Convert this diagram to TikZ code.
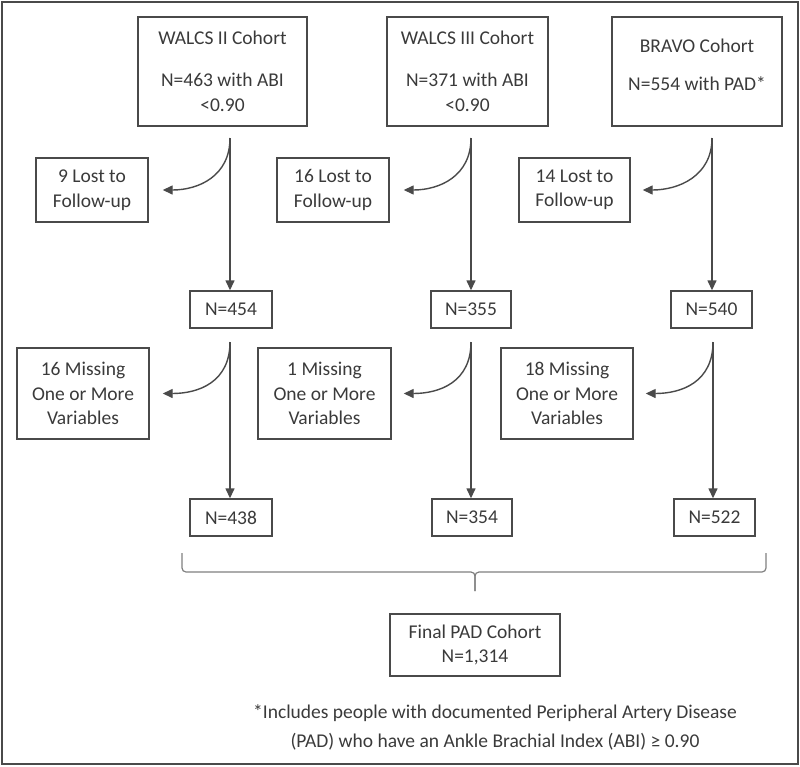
\documentclass[tikz,border=0pt]{standalone}
\usepackage{fontspec}
\setmainfont{Carlito}
\usetikzlibrary{arrows.meta}

\definecolor{inkgray}{HTML}{3A3A3A}
\definecolor{linegray}{HTML}{4A4A4A}
\tikzset{
	box/.style={draw=linegray, line width=1.4pt, text=inkgray, align=center, inner sep=0pt,
		font=\fontsize{19.5}{24.5}\selectfont},
	flow/.style={draw=linegray, line width=1.4pt, -{Triangle[length=10pt,width=9pt]}},
}

\begin{document}
\begin{tikzpicture}[x=1pt, y=-1pt]
		\useasboundingbox (0,0) rectangle (800,766);
		\draw[line width=2pt, color=linegray] (2,2) rectangle (798,764);

		% cohorts
		\node[box, minimum width=169pt, minimum height=109pt] (walcs2) at (222.5,71.5) {WALCS II Cohort\\[17.5pt]N=463 with ABI\\<0.90};
		\node[box, minimum width=161pt, minimum height=109pt] (walcs3) at (467.5,71.5) {WALCS III Cohort\\[17.5pt]N=371 with ABI\\<0.90};
		\node[box, minimum width=170pt, minimum height=109pt, text depth=14pt] (bravo) at (697,71.5) {BRAVO Cohort\\[13.5pt]N=554 with PAD*};

		% lost to follow-up
		\node[box, minimum width=112pt, minimum height=64pt] (lost2) at (92,190) {9 Lost to\\Follow-up};
		\node[box, minimum width=112pt, minimum height=64pt] (lost3) at (333,190) {16 Lost to\\Follow-up};
		\node[box, minimum width=111pt, minimum height=64pt] (lostb) at (574.5,190) {14 Lost to\\Follow-up};

		\node[box, minimum width=82pt, minimum height=37pt] (n454) at (231,309.5) {N=454};
		\node[box, minimum width=80pt, minimum height=37pt] (n355) at (471,309.5) {N=355};
		\node[box, minimum width=81pt, minimum height=37pt] (n540) at (711.5,309.5) {N=540};

		% missing variables
		\node[box, minimum width=132pt, minimum height=91pt] (miss2) at (83,393.5) {16 Missing\\One or More\\Variables};
		\node[box, minimum width=133pt, minimum height=91pt] (miss3) at (324.5,393.5) {1 Missing\\One or More\\Variables};
		\node[box, minimum width=132pt, minimum height=91pt] (missb) at (567,393.5) {18 Missing\\One or More\\Variables};

		\node[box, minimum width=82pt, minimum height=37pt] (n438) at (231,517.5) {N=438};
		\node[box, minimum width=80pt, minimum height=37pt] (n354) at (472,517.5) {N=354};
		\node[box, minimum width=81pt, minimum height=37pt] (n522) at (714.5,517.5) {N=522};

		\node[box, minimum width=170pt, minimum height=62pt] (final) at (475,645) {Final PAD Cohort\\N=1,314};

		\node[text=inkgray, align=center, inner sep=0pt, font=\fontsize{19.5}{24.5}\selectfont] (note) at (495,727.5)
			{*Includes people with documented Peripheral Artery Disease\\[4.5pt](PAD) who have an Ankle Brachial Index (ABI) ≥ 0.90};

		% split points
		\coordinate (s2) at (230,138);
		\coordinate (s3) at (471,138);
		\coordinate (sb) at (712,138);
		\coordinate (t2) at (230,342);
		\coordinate (t3) at (471,342);
		\coordinate (tb) at (713,342);

		\draw[flow] (s2) -- (s2 |- n454.north);
		\draw[flow] (s3) -- (s3 |- n355.north);
		\draw[flow] (sb) -- (sb |- n540.north);
		\draw[flow] (s2) .. controls +(0,38) and +(36,0) .. ([xshift=14pt]lost2.east);
		\draw[flow] (s3) .. controls +(0,38) and +(36,0) .. ([xshift=14pt]lost3.east);
		\draw[flow] (sb) .. controls +(0,38) and +(36,0) .. ([xshift=12pt]lostb.east);

		\draw[flow] (t2) -- (t2 |- n438.north);
		\draw[flow] (t3) -- (t3 |- n354.north);
		\draw[flow] (tb) -- (tb |- n522.north);
		\draw[flow] (t2) .. controls +(0,40) and +(36,0) .. ([xshift=13pt]miss2.east);
		\draw[flow] (t3) .. controls +(0,40) and +(36,0) .. ([xshift=12pt]miss3.east);
		\draw[flow] (tb) .. controls +(0,40) and +(36,0) .. ([xshift=12pt]missb.east);

		% brace
		\draw[line width=1.2pt, color=gray, rounded corners=4pt] (182,553) |- (475,572) -- (475,591);
		\draw[line width=1.2pt, color=gray, rounded corners=4pt] (766,553) |- (475,572) -- (475,591);
	\end{tikzpicture}
\end{document}
